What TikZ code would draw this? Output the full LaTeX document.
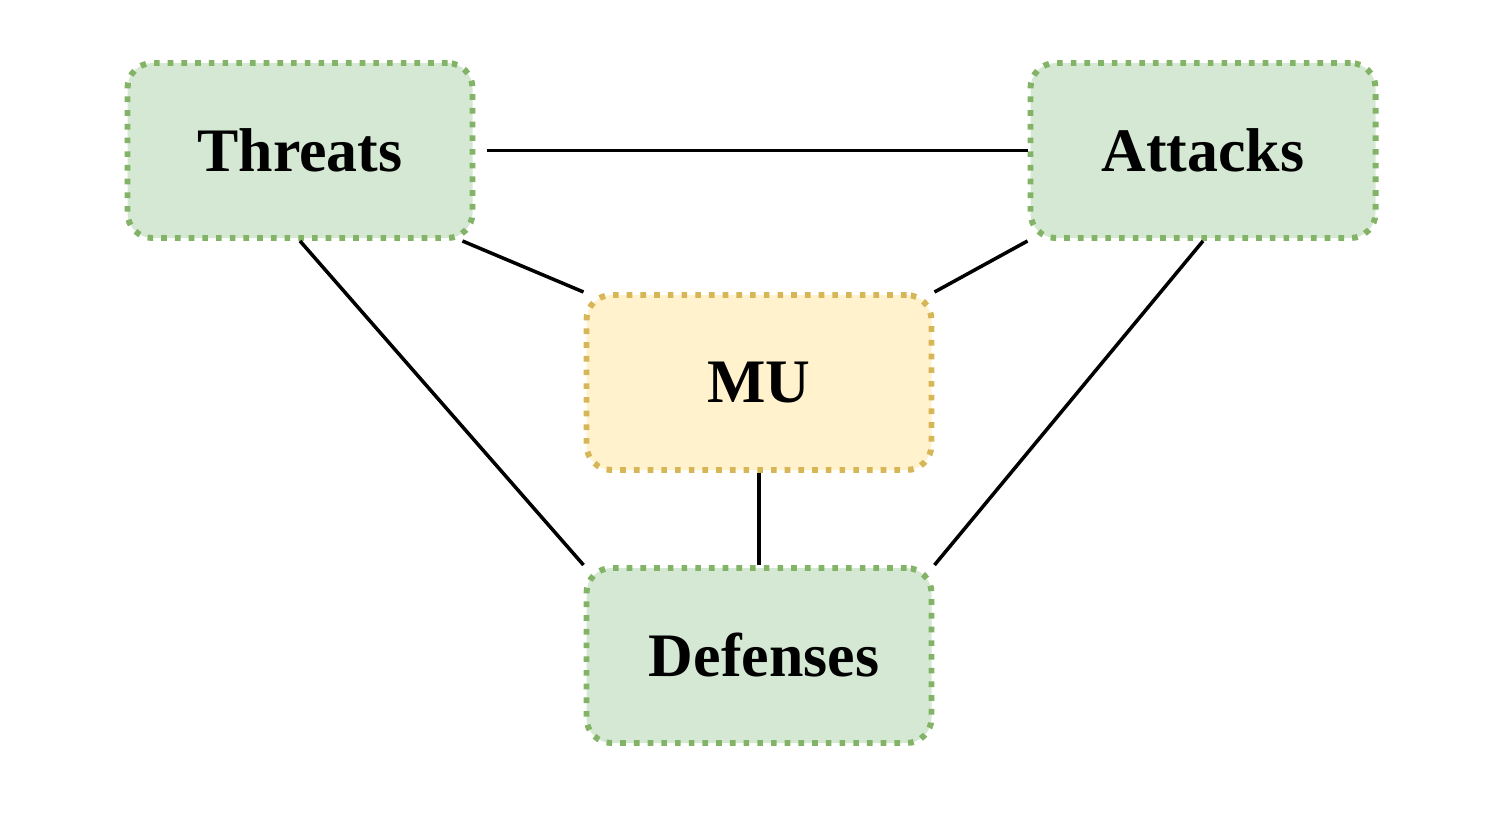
\documentclass[tikz,border=0pt]{standalone}
\usepackage{fontspec}
\setmainfont{Liberation Serif}
\usepackage{tikz}
\usetikzlibrary{calc,positioning}
\definecolor{boxGreen}{RGB}{213,232,212}
\definecolor{boxGreenDark}{RGB}{130,179,102}
\definecolor{boxYellow}{RGB}{255,242,204}
\definecolor{boxYellowDark}{RGB}{214,182,86}

\begin{document}
\begin{tikzpicture}[
  topic/.style={rectangle, rounded corners=0.25cm, minimum width=3.45cm, minimum height=1.75cm,
    line width=1.7pt, dash pattern=on 1.6pt off 2.3pt, font=\fontsize{17.6}{21}\selectfont\bfseries},
  greenbox/.style={topic, fill=boxGreen, draw=boxGreenDark},
  yellowbox/.style={topic, fill=boxYellow, draw=boxYellowDark},
  link/.style={line width=1pt, black}
]
\useasboundingbox (0,0) rectangle (14.95,8.13);

\node[greenbox] (threats) at (3.0,6.625) {Threats};
\node[greenbox] (attacks) at (12.03,6.625) {Attacks};
\node[yellowbox] (mu) at (7.59,4.305) {MU};
\node[greenbox] (defenses) at (7.59,1.575) {\hspace{0.1cm}Defenses};

\draw[link] ([xshift=0.12cm]threats.east) -- (attacks.west);
\draw[link] ([xshift=-0.13cm]threats.south east) -- (mu.north west);
\draw[link] (attacks.south west) -- (mu.north east);
\draw[link] (threats.south) -- (defenses.north west);
\draw[link] (attacks.south) -- (defenses.north east);
\draw[link] (mu.south) -- (defenses.north);
\end{tikzpicture}
\end{document}
